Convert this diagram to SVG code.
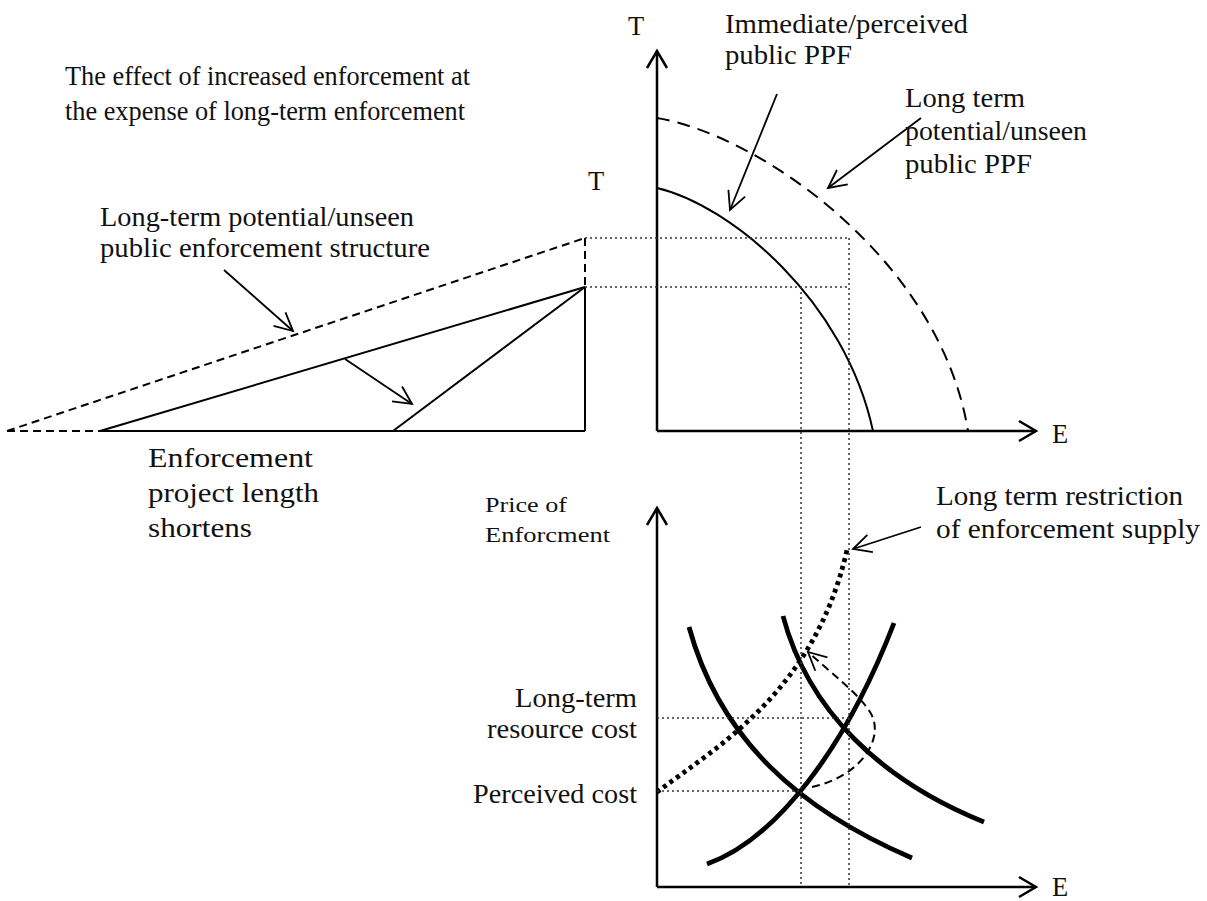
<svg xmlns="http://www.w3.org/2000/svg" width="1207" height="901" viewBox="0 0 1207 901">
<style>
text{font-family:"Liberation Serif","Times New Roman",serif;fill:#111;}
.lbl{font-size:26.5px;}
.ttl{font-size:27.5px;}
.big{font-size:28px;}
.sm{font-size:22px;}
.ax{stroke:#000;stroke-width:2.5;fill:none;}
.ln{stroke:#000;stroke-width:2;fill:none;}
.dsh{stroke:#000;stroke-width:2;fill:none;stroke-dasharray:8 5;}
.ldsh{stroke:#000;stroke-width:2;fill:none;stroke-dasharray:13 8;}
.dot{stroke:#333;stroke-width:1.5;fill:none;stroke-dasharray:2 3;}
.thick{stroke:#000;stroke-width:4.8;fill:none;}
.thickdot{stroke:#000;stroke-width:4.8;fill:none;stroke-dasharray:4 4;}
.ann{stroke:#000;stroke-width:1.8;fill:none;}
</style>
<defs>
<marker id="axh" markerUnits="userSpaceOnUse" viewBox="-20 -12 22 24" markerWidth="22" markerHeight="24" refX="0" refY="0" orient="auto" overflow="visible">
<path d="M-17,-10 L0,0 L-17,10" fill="none" stroke="#000" stroke-width="2.5"/>
</marker>
<marker id="anh" markerUnits="userSpaceOnUse" viewBox="-20 -12 22 24" markerWidth="22" markerHeight="24" refX="0" refY="0" orient="auto" overflow="visible">
<path d="M-18,-9 L0,0 L-18,9" fill="none" stroke="#000" stroke-width="1.8"/>
</marker>
</defs>

<g id="title">
<text class="ttl" x="65" y="85" textLength="405" lengthAdjust="spacingAndGlyphs">The effect of increased enforcement at</text>
<text class="ttl" x="65" y="120" textLength="400" lengthAdjust="spacingAndGlyphs">the expense of long-term enforcement</text>
</g>

<g id="left-diagram">
<line class="dsh" x1="7" y1="431" x2="100" y2="431"/>
<line class="dsh" x1="7" y1="431" x2="585" y2="238"/>
<line class="dsh" x1="585" y1="238" x2="585" y2="287"/>
<line class="ln" x1="100" y1="431" x2="585" y2="431"/>
<line class="ln" x1="585" y1="287" x2="585" y2="431"/>
<line class="ln" x1="100" y1="431" x2="585" y2="287"/>
<line class="ln" x1="393" y1="431" x2="585" y2="287"/>
<text class="lbl" x="588" y="190">T</text>
</g>

<g id="ppf-diagram">
<line class="ax" x1="657" y1="431" x2="657" y2="51" marker-end="url(#axh)"/>
<line class="ax" x1="657" y1="431" x2="1036" y2="431" marker-end="url(#axh)"/>
<text class="lbl" x="628" y="35">T</text>
<text class="lbl" x="1052" y="443">E</text>
<path class="ln" d="M657,188 C730,205 845,300 873,431"/>
<path class="ldsh" d="M657,118 C760,135 940,260 968,431"/>
</g>

<g id="price-diagram">
<line class="ax" x1="657" y1="887" x2="657" y2="508" marker-end="url(#axh)"/>
<line class="ax" x1="657" y1="887" x2="1036" y2="887" marker-end="url(#axh)"/>
<text class="lbl" x="1052" y="896">E</text>
<path class="thick" d="M689,627 C720,740 800,810 912,858"/>
<path class="thick" d="M783,616 C808,710 880,780 984,822"/>
<path class="thick" d="M707,864 C775,840 845,750 894,623"/>
<path class="thickdot" d="M657,792 C720,745 815,690 847,550"/>
<path class="dsh" stroke-width="1.6" d="M812,787 C865,775 885,735 870,712 C858,693 830,672 808,652" marker-end="url(#anh)"/>
</g>

<g id="connectors">
<line class="dot" x1="585" y1="238" x2="849" y2="238"/>
<line class="dot" x1="585" y1="287" x2="849" y2="287"/>
<line class="dot" x1="801" y1="287" x2="801" y2="885"/>
<line class="dot" x1="849" y1="238" x2="849" y2="885"/>
<line class="dot" x1="657" y1="718" x2="849" y2="718"/>
<line class="dot" x1="657" y1="791" x2="801" y2="791"/>
<line class="ann" x1="777" y1="94" x2="730" y2="210" marker-end="url(#anh)"/>
<line class="ann" x1="921" y1="118" x2="828" y2="188" marker-end="url(#anh)"/>
<line class="ann" x1="921" y1="527" x2="853" y2="549" marker-end="url(#anh)"/>
<line class="ann" x1="224" y1="270" x2="293" y2="331" marker-end="url(#anh)"/>
<line class="ann" x1="345" y1="359" x2="412" y2="404" marker-end="url(#anh)"/>
</g>

<g id="label-immediate">
<text class="lbl" x="725" y="33" textLength="243" lengthAdjust="spacingAndGlyphs">Immediate/perceived</text>
<text class="lbl" x="725" y="64" textLength="127" lengthAdjust="spacingAndGlyphs">public PPF</text>
</g>
<g id="label-longterm-ppf">
<text class="lbl" x="905" y="107" textLength="120" lengthAdjust="spacingAndGlyphs">Long term</text>
<text class="lbl" x="905" y="140" textLength="182" lengthAdjust="spacingAndGlyphs">potential/unseen</text>
<text class="lbl" x="905" y="173" textLength="127" lengthAdjust="spacingAndGlyphs">public PPF</text>
</g>
<g id="label-structure">
<text class="lbl" x="100" y="226" textLength="314" lengthAdjust="spacingAndGlyphs">Long-term potential/unseen</text>
<text class="lbl" x="100" y="257" textLength="330" lengthAdjust="spacingAndGlyphs">public enforcement structure</text>
</g>
<g id="label-project">
<text class="big" x="148" y="467" textLength="165" lengthAdjust="spacingAndGlyphs">Enforcement</text>
<text class="big" x="148" y="502" textLength="171" lengthAdjust="spacingAndGlyphs">project length</text>
<text class="big" x="148" y="537" textLength="104" lengthAdjust="spacingAndGlyphs">shortens</text>
</g>
<g id="label-price">
<text class="sm" x="485" y="512" textLength="82" lengthAdjust="spacingAndGlyphs">Price of</text>
<text class="sm" x="485" y="542" textLength="125" lengthAdjust="spacingAndGlyphs">Enforcment</text>
</g>
<g id="label-restriction">
<text class="lbl" x="936" y="505" textLength="247" lengthAdjust="spacingAndGlyphs">Long term restriction</text>
<text class="lbl" x="936" y="538" textLength="264" lengthAdjust="spacingAndGlyphs">of enforcement supply</text>
</g>
<g id="label-costs">
<text class="lbl" x="515" y="707" textLength="122" lengthAdjust="spacingAndGlyphs">Long-term</text>
<text class="lbl" x="487" y="738" textLength="150" lengthAdjust="spacingAndGlyphs">resource cost</text>
<text class="lbl" x="473" y="803" textLength="164" lengthAdjust="spacingAndGlyphs">Perceived cost</text>
</g>
</svg>
